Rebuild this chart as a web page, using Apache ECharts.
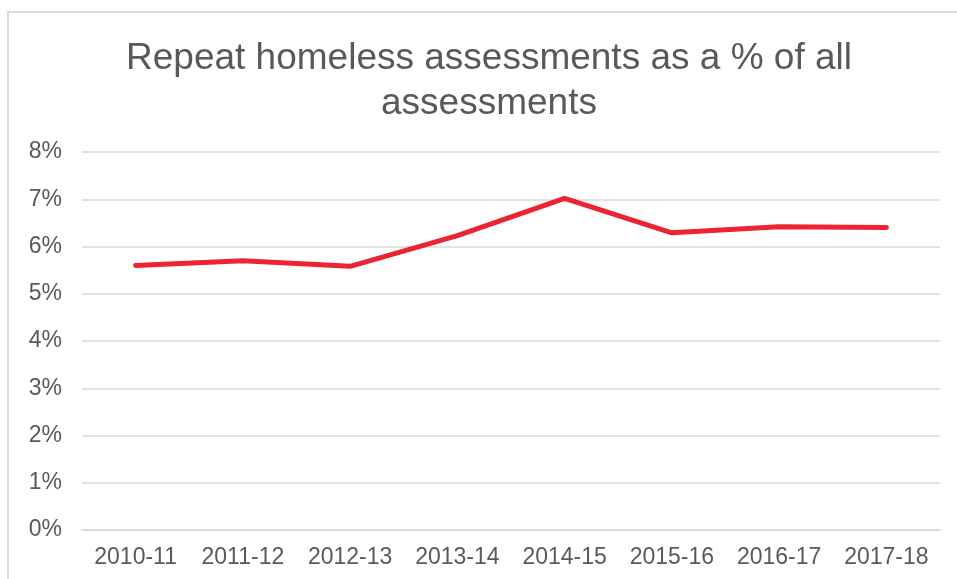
<!DOCTYPE html>
<html>
<head>
<meta charset="utf-8">
<script src="https://cdn.jsdelivr.net/npm/echarts@6/dist/echarts.min.js"></script>
<style>
  html, body { margin: 0; padding: 0; background: #fff; }
  #chart { width: 957px; height: 579px; }
</style>
</head>
<body>
<div id="chart"></div>
<script>
// Financial years on the horizontal axis
const years = ['2010-11', '2011-12', '2012-13', '2013-14', '2014-15', '2015-16', '2016-17', '2017-18'];
// Repeat assessments as a percentage of all homeless assessments
const repeatShare = [5.60, 5.70, 5.58, 6.23, 7.02, 6.29, 6.42, 6.40];
// Vertical axis range (percent)
const yMin = 0;
const yMax = 8;
const yStep = 1;

const chart = echarts.init(document.getElementById('chart'), null, { renderer: 'canvas' });

const font = 'Liberation Sans, Arial, Helvetica, sans-serif';
const textGray = '#595959';
const ruleGray = '#d9d9d9';

chart.setOption({
  backgroundColor: '#ffffff',
  animation: false,
  title: {
    text: 'Repeat homeless assessments as a % of all\nassessments',
    left: 484,
    top: 31,
    textAlign: 'center',
    textStyle: {
      fontFamily: font,
      fontSize: 37,
      fontWeight: 'normal',
      color: textGray,
      lineHeight: 45
    }
  },
  graphic: [{
    type: 'rect',
    shape: { x: 8, y: 12, width: 1200, height: 1000 },
    style: { fill: 'none', stroke: ruleGray, lineWidth: 2 },
    silent: true
  }],
  grid: { left: 82, right: 17, top: 152, bottom: 49, containLabel: false },
  xAxis: {
    type: 'category',
    data: years,
    boundaryGap: true,
    axisLine: { show: true, lineStyle: { color: ruleGray, width: 1.5 } },
    axisTick: { show: false },
    axisLabel: {
      fontFamily: font,
      fontSize: 23,
      color: textGray,
      margin: 16,
      interval: 0
    }
  },
  yAxis: {
    type: 'value',
    min: yMin,
    max: yMax,
    interval: yStep,
    axisLine: { show: false },
    axisTick: { show: false },
    splitLine: { lineStyle: { color: ruleGray, width: 1.5 } },
    axisLabel: {
      fontFamily: font,
      fontSize: 23,
      color: textGray,
      margin: 20,
      formatter: '{value}%'
    }
  },
  series: [{
    type: 'line',
    data: repeatShare,
    symbol: 'none',
    lineStyle: { color: '#ec2330', width: 5, cap: 'round', join: 'round' },
    itemStyle: { color: '#ec2330' }
  }]
});
</script>
</body>
</html>
